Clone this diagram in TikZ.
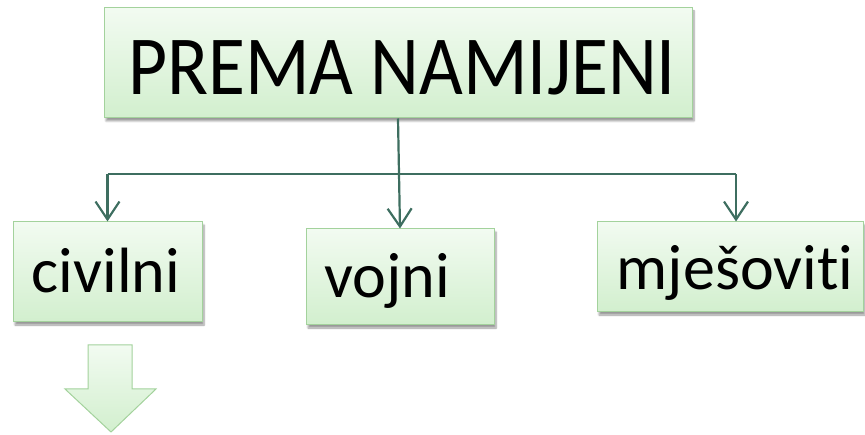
\documentclass[tikz,border=0pt]{standalone}
\usepackage{fontspec}
\setmainfont{Carlito}[Ligatures=NoCommon]
\usetikzlibrary{arrows.meta,shadows.blur}
\definecolor{boxline}{HTML}{A3D29C}
\definecolor{boxtop}{HTML}{F2FBF1}
\definecolor{boxbot}{HTML}{D2EFCE}
\definecolor{connc}{HTML}{3E6E60}
\tikzset{
 box/.style={draw=boxline, line width=1pt, top color=boxtop, bottom color=boxbot, inner sep=0pt,
   blur shadow={shadow xshift=2pt, shadow yshift=-3pt, shadow blur steps=6, shadow opacity=40}},
 lbl/.style={anchor=base, inner sep=0pt, font=\fontsize{64}{70}\selectfont},
 linkline/.style={draw=connc, line width=2.2pt},
 link/.style={linkline, -{Straight Barb[length=18pt,width=24pt,line width=2.2pt]}},
}
\begin{document}
\begin{tikzpicture}[x=1pt,y=-1pt]
\useasboundingbox (0,0) rectangle (865,435);
\node[box, minimum width=588pt, minimum height=110pt] (top) at (398,63) {};
\node[lbl, font=\fontsize{84}{90}\selectfont, xscale=0.9] (topt) at (402,95) {PREMA NAMIJENI};
\node[box, minimum width=189pt, minimum height=100pt] (civ) at (107.5,272) {};
\node[lbl] (civt) at (106,293) {civilni};
\node[box, minimum width=188pt, minimum height=96pt] (voj) at (400,277) {};
\node[lbl] (vojt) at (387,298) {vojni};
\node[box, minimum width=266pt, minimum height=90pt] (mje) at (730,267) {};
\node[lbl] (mjet) at (735,290) {mješoviti};
\coordinate (hl) at (107.5,174);
\coordinate (hr) at (736,174);
\draw[linkline] (hl) -- (hr);
\draw[link] (hl) -- (civ.north);
\draw[link] (hr) -- (hr |- mje.north);
\draw[link] (top.south) -- (voj.north);
\path[draw=boxline, line width=1pt, top color=boxtop, bottom color=boxbot]
  (88,345) -- (132,345) -- (132,389) -- (156,389) -- (111,432) -- (65,389) -- (88,389) -- cycle;
\end{tikzpicture}
\end{document}
